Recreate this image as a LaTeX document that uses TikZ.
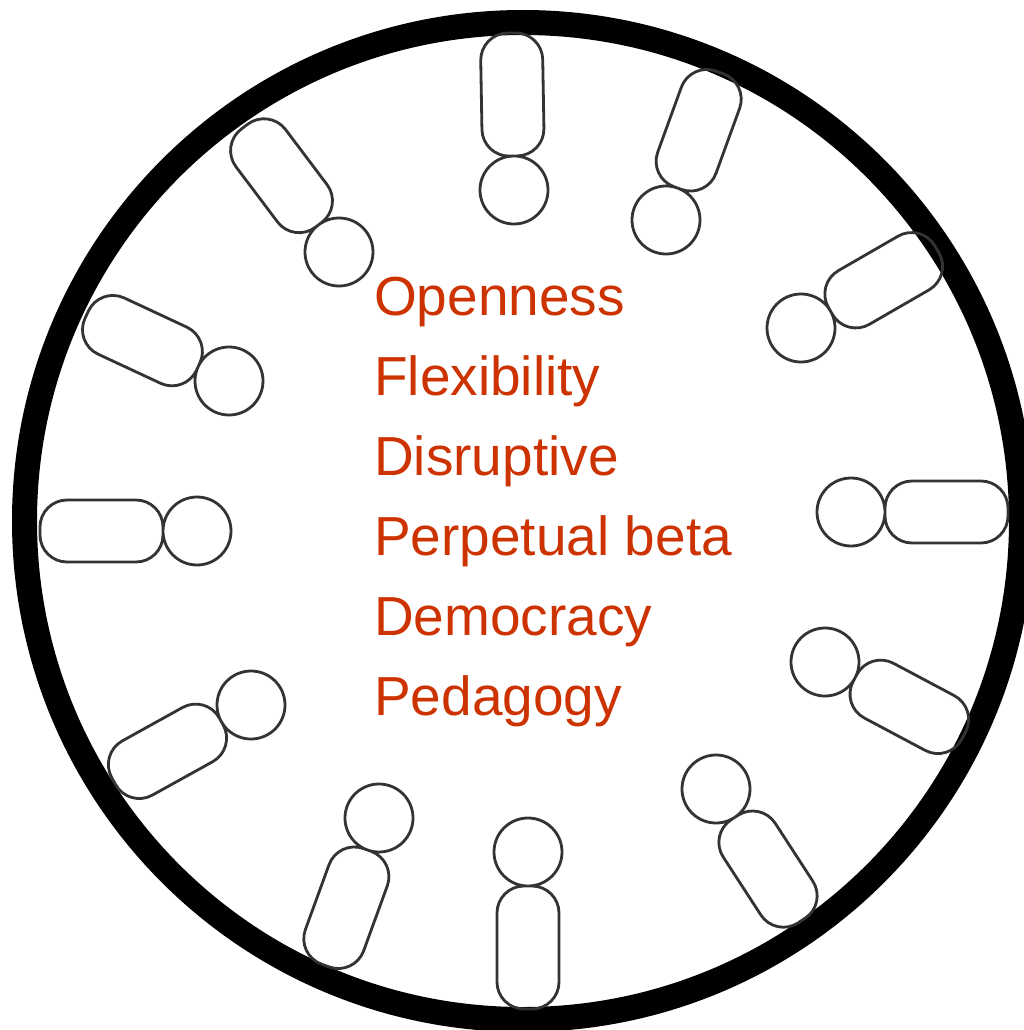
\documentclass[tikz,border=0pt]{standalone}
\usepackage{xcolor}
\usepackage{tikz}
\usepackage{fontspec}
\setmainfont{Liberation Sans}
\usetikzlibrary{positioning}
\definecolor{rust}{RGB}{204,51,0}

\begin{document}
\begin{tikzpicture}[x=1pt,y=-1pt,
  person/.style={line width=2.8pt, draw=black!80},
  word/.style={anchor=base west, inner sep=0pt, text=rust, font=\fontsize{55}{80}\selectfont}]
\useasboundingbox (0,0) rectangle (1024,1030);
\clip (0,0) rectangle (1024,1030);
\fill[white] (0,0) rectangle (1024,1030);
\draw [line width = 25pt] (523,521) circle (498.5);
% people round the table
\draw[person, shift={(514,190)}, rotate=91]  (0,0) circle (34) [rounded corners=27pt] (34,-31) rectangle (157,31);
\draw[person, shift={(666,220)}, rotate=70]  (0,0) circle (34) [rounded corners=27pt] (34,-31) rectangle (157,31);
\draw[person, shift={(801,328)}, rotate=30]  (0,0) circle (34) [rounded corners=27pt] (34,-31) rectangle (157,31);
\draw[person, shift={(851,512)}, rotate=0]   (0,0) circle (34) [rounded corners=27pt] (34,-31) rectangle (157,31);
\draw[person, shift={(825,662)}, rotate=-28] (0,0) circle (34) [rounded corners=27pt] (34,-31) rectangle (157,31);
\draw[person, shift={(716,789)}, rotate=-57] (0,0) circle (34) [rounded corners=27pt] (34,-31) rectangle (157,31);
\draw[person, shift={(528,852)}, rotate=-90] (0,0) circle (34) [rounded corners=27pt] (34,-31) rectangle (157,31);
\draw[person, shift={(379,818)}, rotate=250] (0,0) circle (34) [rounded corners=27pt] (34,-31) rectangle (157,31);
\draw[person, shift={(251,705)}, rotate=209] (0,0) circle (34) [rounded corners=27pt] (34,-31) rectangle (157,31);
\draw[person, shift={(197,531)}, rotate=180] (0,0) circle (34) [rounded corners=27pt] (34,-31) rectangle (157,31);
\draw[person, shift={(229,381)}, rotate=155] (0,0) circle (34) [rounded corners=27pt] (34,-31) rectangle (157,31);
\draw[person, shift={(339,252)}, rotate=127] (0,0) circle (34) [rounded corners=27pt] (34,-31) rectangle (157,31);
% values
\node (openness)  [word] at (374,315) {Openness};
\node (flex)      [word] at (374,395) {Flexibility};
\node (disrupt)   [word] at (374,475) {Disruptive};
\node (beta)      [word] at (374,555) {Perpetual beta};
\node (democracy) [word] at (374,635) {Democracy};
\node (pedagogy)  [word] at (374,715) {Pedagogy};
\end{tikzpicture}
\end{document}
